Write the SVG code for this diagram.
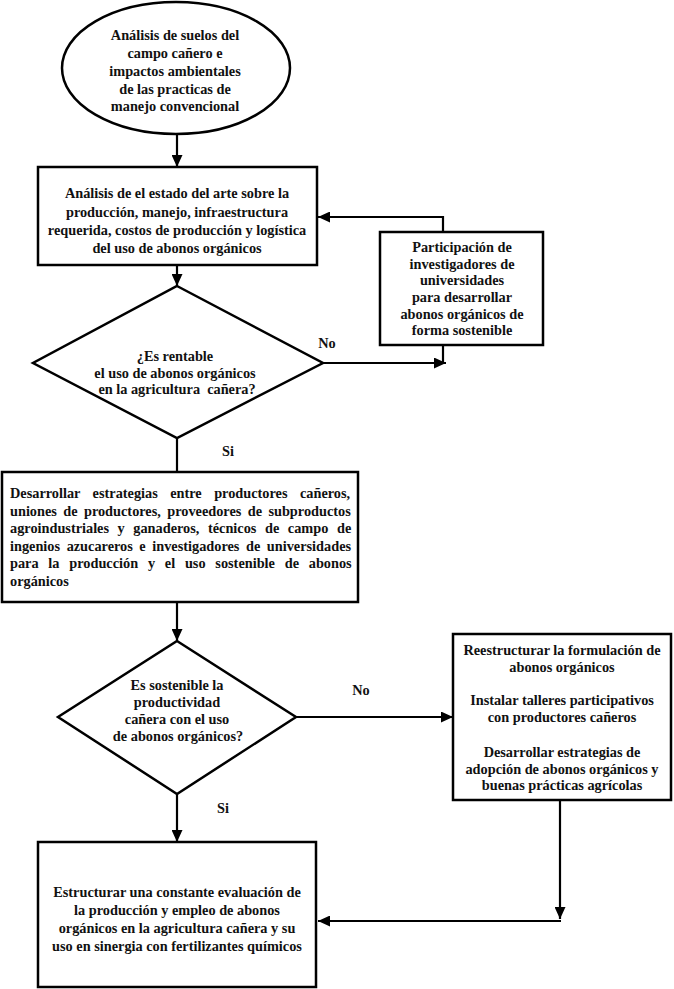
<svg xmlns="http://www.w3.org/2000/svg" width="674" height="989" viewBox="0 0 674 989">
<defs>
<style>
.n{fill:#fff;stroke:#000;stroke-width:2.5}
.t{font-family:"Liberation Serif","Times New Roman",serif;font-weight:bold;font-size:14.3px;fill:#111;text-anchor:middle}
.l{text-anchor:start}
.c{fill:none;stroke:#000;stroke-width:2.2}
</style>
<marker id="a" markerUnits="userSpaceOnUse" markerWidth="13" markerHeight="11" refX="12" refY="5.5" orient="auto">
<path d="M0,0 L12,5.5 L0,11 z" fill="#000"/>
</marker>
</defs>
<rect width="674" height="989" fill="#fff"/>
<g id="connectors">
<line class="c" x1="177" y1="134" x2="177" y2="167" marker-end="url(#a)"/>
<line class="c" x1="177" y1="265" x2="177" y2="286" marker-end="url(#a)"/>
<polyline class="c" points="443,232 443,217 318,217" marker-end="url(#a)"/>
<line class="c" x1="323" y1="363" x2="446" y2="363" marker-end="url(#a)"/>
<line class="c" x1="443" y1="345" x2="443" y2="363"/>
<line class="c" x1="177" y1="438" x2="177" y2="472"/>
<line class="c" x1="177" y1="602" x2="177" y2="641" marker-end="url(#a)"/>
<line class="c" x1="296" y1="717" x2="453" y2="717" marker-end="url(#a)"/>
<line class="c" x1="177" y1="794" x2="177" y2="842" marker-end="url(#a)"/>
<line class="c" x1="560" y1="800" x2="560" y2="919" marker-end="url(#a)"/>
<line class="c" x1="561" y1="921" x2="318" y2="921" marker-end="url(#a)"/>
</g>
<g id="n1">
<ellipse class="n" cx="176" cy="68" rx="114" ry="66"/>
<text class="t" x="175" y="40">Análisis de suelos del</text>
<text class="t" x="175" y="58">campo cañero e</text>
<text class="t" x="175" y="76">impactos ambientales</text>
<text class="t" x="175" y="94">de las practicas de</text>
<text class="t" x="175" y="111">manejo convencional</text>
</g>
<g id="n2">
<rect class="n" x="38" y="167" width="279" height="98"/>
<text class="t" x="177" y="198">Análisis de el estado del arte sobre la</text>
<text class="t" x="177" y="216.5">producción, manejo, infraestructura</text>
<text class="t" x="177" y="235">requerida, costos de producción y logística</text>
<text class="t" x="177" y="253">del uso de abonos orgánicos</text>
</g>
<g id="n3">
<rect class="n" x="380" y="232" width="163" height="113"/>
<text class="t" x="462" y="252">Participación de</text>
<text class="t" x="462" y="268.5">investigadores de</text>
<text class="t" x="462" y="285">universidades</text>
<text class="t" x="462" y="302">para desarrollar</text>
<text class="t" x="462" y="318.5">abonos orgánicos de</text>
<text class="t" x="462" y="335">forma sostenible</text>
</g>
<g id="n4">
<polygon class="n" points="177,286 323,363 177,438 33,363"/>
<text class="t" x="175" y="361">¿Es rentable</text>
<text class="t" x="175" y="377.5">el uso de abonos orgánicos</text>
<text class="t" x="177" y="393.5" xml:space="preserve">en la agricultura  cañera?</text>
</g>
<text class="t" x="327" y="348">No</text>
<text class="t" x="228" y="456">Si</text>
<g id="n5">
<rect class="n" x="2" y="472" width="356" height="130"/>
<text class="t l" x="10" y="498" style="word-spacing:8.9px">Desarrollar estrategias entre productores cañeros,</text>
<text class="t l" x="10" y="515.5" style="word-spacing:2.8px">uniones de productores, proveedores de subproductos</text>
<text class="t l" x="10" y="533" style="word-spacing:5px">agroindustriales y ganaderos, técnicos de campo de</text>
<text class="t l" x="10" y="550.5" style="word-spacing:3px">ingenios azucareros e investigadores de universidades</text>
<text class="t l" x="10" y="568" style="word-spacing:6.2px">para la producción y el uso sostenible de abonos</text>
<text class="t l" x="10" y="585.5">orgánicos</text>
</g>
<g id="n6">
<polygon class="n" points="177,641 296,717 177,794 58,717"/>
<text class="t" x="177" y="690">Es sostenible la</text>
<text class="t" x="177" y="707">productividad</text>
<text class="t" x="177" y="724">cañera con el uso</text>
<text class="t" x="178" y="741">de abonos orgánicos?</text>
</g>
<text class="t" x="361" y="695">No</text>
<text class="t" x="223" y="813">Si</text>
<g id="n7">
<rect class="n" x="453" y="634" width="218" height="166"/>
<text class="t" x="562" y="655">Reestructurar la formulación de</text>
<text class="t" x="562" y="672">abonos orgánicos</text>
<text class="t" x="562" y="705">Instalar talleres participativos</text>
<text class="t" x="562" y="722">con productores cañeros</text>
<text class="t" x="562" y="757">Desarrollar estrategias de</text>
<text class="t" x="562" y="773.5">adopción de abonos orgánicos y</text>
<text class="t" x="562" y="790">buenas prácticas agrícolas</text>
</g>
<g id="n8">
<rect class="n" x="38" y="842" width="278" height="145"/>
<text class="t" x="177" y="897">Estructurar una constante evaluación de</text>
<text class="t" x="177" y="915">la producción y empleo de abonos</text>
<text class="t" x="177" y="933">orgánicos en la agricultura cañera y su</text>
<text class="t" x="177" y="951">uso en sinergia con fertilizantes químicos</text>
</g>
</svg>
